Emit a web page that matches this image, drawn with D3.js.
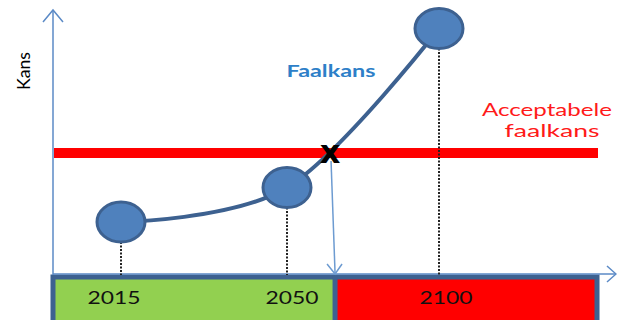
<!DOCTYPE html>
<html><head><meta charset="utf-8">
<script src="https://cdn.jsdelivr.net/npm/d3@7/dist/d3.min.js"></script>
<style>body{margin:0;background:#fff}svg{display:block}</style>
</head><body>
<svg id="c" width="617" height="320"></svg>
<script>
// data
const years = [2015, 2050, 2100];
const faalkans = [20, 33, 93];          // probability (relative units)
const acceptabel = 46;                  // acceptable failure probability
const yearLabels = ["2015", "2050", "2100"];
const seriesLabel = "Faalkans";
const limitLabel = ["Acceptabele", "faalkans"];
const yLabel = "Kans";

const W = 617, H = 320;
const svg = d3.select("#c");
const axisC = "#5b8ac6", darkBlue = "#3d6190";

const x0 = 53, x1 = 598, yBase = 275, yTop = 10;
const x = d3.scaleLinear().domain([2015, 2050, 2100]).range([121, 287, 439]);
const y = d3.scaleLinear().domain([0, 100]).range([yBase, yTop]);

// curve
const line = d3.line().x((d, i) => x(years[i])).y(d => y(d)).curve(d3.curveCardinal.tension(0));
const path = svg.append("path").attr("d", line(faalkans)).attr("fill", "none")
  .attr("stroke", darkBlue).attr("stroke-width", 4);

// find crossing with acceptable level
const node = path.node(), L = node.getTotalLength();
let cross = null;
for (let s = 0; s <= L; s += 0.5) {
  const p = node.getPointAtLength(s);
  if (p.y <= y(acceptabel)) { cross = p; break; }
}
const bx = cross.x + 6;

// timeline bar
const bar = svg.append("g");
bar.append("rect").attr("x", x0).attr("y", yBase + 2).attr("width", bx - x0).attr("height", 60)
  .attr("fill", "#92d050");
bar.append("rect").attr("x", bx).attr("y", yBase + 2).attr("width", x1 - bx).attr("height", 60)
  .attr("fill", "#ff0000");
bar.append("rect").attr("x", x0).attr("y", yBase + 2).attr("width", x1 - x0 - 1).attr("height", 60)
  .attr("fill", "none").attr("stroke", darkBlue).attr("stroke-width", 5);
bar.append("line").attr("x1", bx).attr("x2", bx).attr("y1", yBase).attr("y2", H)
  .attr("stroke", darkBlue).attr("stroke-width", 5);

// axes
svg.append("line").attr("x1", x0).attr("x2", x0).attr("y1", yBase).attr("y2", yTop)
  .attr("stroke", axisC).attr("stroke-width", 1.5);
svg.append("path").attr("d", `M${x0-10},${yTop+12}L${x0},${yTop}L${x0+10},${yTop+12}`)
  .attr("fill", "none").attr("stroke", axisC).attr("stroke-width", 1.5);
svg.append("line").attr("x1", x0).attr("x2", 616).attr("y1", yBase - 1).attr("y2", yBase - 1)
  .attr("stroke", axisC).attr("stroke-width", 1.5);
svg.append("path").attr("d", `M607,${yBase-9}L616,${yBase-1}L607,${yBase+7}`)
  .attr("fill", "none").attr("stroke", axisC).attr("stroke-width", 1.5);

// acceptable line
svg.append("line").attr("x1", x0 + 1).attr("x2", x1).attr("y1", y(acceptabel)).attr("y2", y(acceptabel))
  .attr("stroke", "#ff0000").attr("stroke-width", 10);
svg.node().appendChild(path.node());

// dashed drops
svg.selectAll(".drop").data(faalkans).join("line").attr("class", "drop")
  .attr("x1", (d, i) => x(years[i])).attr("x2", (d, i) => x(years[i]))
  .attr("y1", d => y(d) + 20).attr("y2", yBase)
  .attr("stroke", "#222").attr("stroke-width", 2).attr("stroke-dasharray", "2,1.5");

// points
svg.selectAll(".pt").data(faalkans).join("ellipse").attr("class", "pt")
  .attr("cx", (d, i) => x(years[i])).attr("cy", d => y(d))
  .attr("rx", 24).attr("ry", 20).attr("fill", "#4f81bd")
  .attr("stroke", darkBlue).attr("stroke-width", 3);

// vertical arrow from crossing
svg.append("line").attr("x1", cross.x + 2).attr("y1", cross.y + 8).attr("x2", bx).attr("y2", yBase - 2)
  .attr("stroke", "#6d9bd1").attr("stroke-width", 1.5);
svg.append("path").attr("d", `M${bx-8},${yBase-11}L${bx},${yBase-1}L${bx+7},${yBase-11}`)
  .attr("fill", "none").attr("stroke", "#6d9bd1").attr("stroke-width", 1.5);

// X mark
svg.append("text").attr("x", cross.x + 1).attr("y", cross.y + 10).attr("text-anchor", "middle")
  .attr("font-family", "DejaVu Sans").attr("font-weight", "bold").attr("font-size", 32)
  .attr("fill", "#000").text("x");

// labels
svg.append("text").attr("x", 331).attr("y", 77).attr("text-anchor", "middle")
  .attr("font-family", "Lato").attr("font-weight", "bold").attr("font-size", 17)
  .attr("fill", "#2e7fc8").attr("textLength", 89).attr("lengthAdjust", "spacingAndGlyphs").text(seriesLabel);
svg.append("text").attr("x", 547).attr("y", 116).attr("text-anchor", "middle")
  .attr("font-family", "Lato").attr("font-size", 18).attr("fill", "#ff1a1a")
  .attr("textLength", 130).attr("lengthAdjust", "spacingAndGlyphs").text(limitLabel[0]);
svg.append("text").attr("x", 552).attr("y", 137).attr("text-anchor", "middle")
  .attr("font-family", "Lato").attr("font-size", 18).attr("fill", "#ff1a1a")
  .attr("textLength", 95).attr("lengthAdjust", "spacingAndGlyphs").text(limitLabel[1]);
svg.append("text").attr("transform", "translate(30,71) rotate(-90)").attr("text-anchor", "middle")
  .attr("font-family", "Lato").attr("font-size", 17).attr("fill", "#000")
  .attr("textLength", 38).attr("lengthAdjust", "spacingAndGlyphs").text(yLabel);

const yearOff = [-7, 5, 7];
svg.selectAll(".yl").data(yearLabels).join("text").attr("class", "yl")
  .attr("x", (d, i) => x(years[i]) + yearOff[i]).attr("y", 304).attr("text-anchor", "middle")
  .attr("font-family", "Lato").attr("font-size", 17).attr("fill", "#111")
  .attr("textLength", 53).attr("lengthAdjust", "spacingAndGlyphs").text(d => d);
</script>
</body></html>
